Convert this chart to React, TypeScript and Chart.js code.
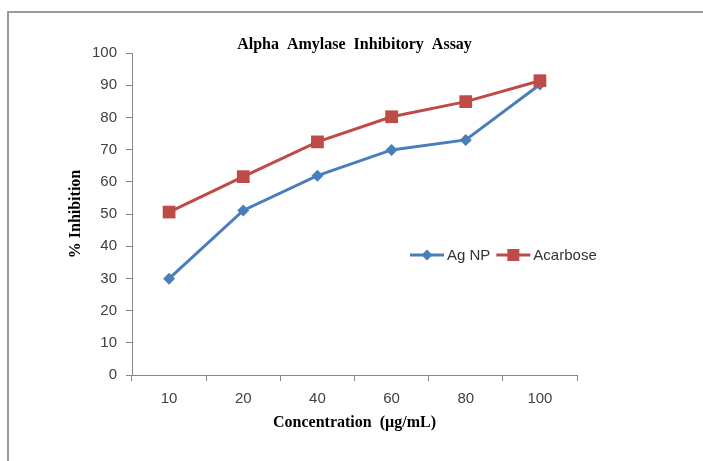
import React, { useEffect, useRef } from "react";
import { Chart, registerables } from "chart.js";

Chart.register(...registerables);

const categories = ["10", "20", "40", "60", "80", "100"];
const agNP = [29.9, 51.1, 61.9, 69.9, 73.0, 90.2];
const acarbose = [50.6, 61.6, 72.4, 80.2, 84.9, 91.4];
const seriesNames = ["Ag NP", "Acarbose"];
const yTicks = [0, 10, 20, 30, 40, 50, 60, 70, 80, 90, 100];
const chartTitle = "Alpha  Amylase  Inhibitory  Assay";
const xTitle = "Concentration  (µg/mL)";
const yTitle = "% Inhibition";

const BLUE = "#4A7EBB";
const RED = "#BE4B48";
const AXIS = "#868686";
const TEXT = "#404040";
const SERIF = "'Liberation Serif', 'Times New Roman', serif";
const SANS = "'Liberation Sans', Arial, sans-serif";

const titlePlugin = {
  id: "areaTitle",
  afterDraw(chart: any) {
    const ctx = chart.ctx;
    const a = chart.chartArea;
    ctx.save();
    ctx.font = `bold 16px ${SERIF}`;
    ctx.fillStyle = "#000";
    ctx.textAlign = "center";
    ctx.textBaseline = "middle";
    ctx.fillText(chartTitle, (a.left + a.right) / 2, a.top - 8);
    ctx.restore();
  },
};

const legendPlugin = {
  id: "insideLegend",
  afterDraw(chart: any) {
    const ctx = chart.ctx;
    const y = 255;
    let x = 410;
    ctx.save();
    ctx.font = `15px ${SANS}`;
    ctx.textBaseline = "middle";
    ctx.textAlign = "left";
    chart.data.datasets.forEach((ds: any) => {
      ctx.strokeStyle = ds.borderColor;
      ctx.lineWidth = 3;
      ctx.beginPath();
      ctx.moveTo(x, y);
      ctx.lineTo(x + 34, y);
      ctx.stroke();
      const px = x + 17;
      ctx.fillStyle = ds.pointBackgroundColor;
      ctx.beginPath();
      if (ds.pointStyle === "rect") {
        const s = 6;
        ctx.rect(px - s, y - s, 2 * s, 2 * s);
      } else {
        const r = 5.5;
        ctx.moveTo(px, y - r);
        ctx.lineTo(px + r, y);
        ctx.lineTo(px, y + r);
        ctx.lineTo(px - r, y);
        ctx.closePath();
      }
      ctx.fill();
      ctx.fillStyle = "#333";
      ctx.fillText(ds.label, x + 37, y + 1);
      x += 37 + ctx.measureText(ds.label).width + 6;
    });
    ctx.restore();
  },
};

export default function App() {
  const ref = useRef<HTMLCanvasElement | null>(null);
  useEffect(() => {
    if (!ref.current) return;
    const chart = new Chart(ref.current, {
      type: "line",
      data: {
        labels: categories,
        datasets: [
          {
            label: seriesNames[0],
            data: agNP,
            borderColor: BLUE,
            backgroundColor: BLUE,
            pointBackgroundColor: BLUE,
            pointBorderColor: BLUE,
            pointStyle: "rectRot",
            pointRadius: 6,
            pointBorderWidth: 0,
            borderWidth: 3,
            order: 1,
          } as any,
          {
            label: seriesNames[1],
            data: acarbose,
            borderColor: RED,
            backgroundColor: RED,
            pointBackgroundColor: RED,
            pointBorderColor: RED,
            pointStyle: "rect",
            pointRadius: 9,
            pointBorderWidth: 0,
            borderWidth: 3,
            order: 0,
          } as any,
        ],
      },
      options: {
        animation: false,
        responsive: false,
        maintainAspectRatio: false,
        layout: { padding: { left: 60, right: 126, top: 53, bottom: 20 } },
        plugins: {
          legend: { display: false },
          tooltip: { enabled: false },
          title: { display: false },
        },
        scales: {
          x: {
            type: "category",
            offset: true,
            grid: { offset: true, drawOnChartArea: false, drawTicks: true, tickLength: 6, color: AXIS },
            border: { color: AXIS, width: 1 },
            ticks: { color: TEXT, font: { family: SANS, size: 15 }, padding: 9 },
            title: {
              display: true,
              text: xTitle,
              color: "#000",
              font: { family: SERIF, size: 16, weight: "bold" },
              padding: { top: 0, bottom: 9 },
            },
            afterFit: (s: any) => {
              s.height = 66;
            },
          },
          y: {
            min: 0,
            max: 100,
            afterBuildTicks: (s: any) => {
              s.ticks = yTicks.map((v) => ({ value: v }));
            },
            grid: { drawOnChartArea: false, drawTicks: true, tickLength: 6, color: AXIS },
            border: { color: AXIS, width: 1 },
            ticks: { color: TEXT, font: { family: SANS, size: 15 }, padding: 9 },
            title: {
              display: true,
              text: yTitle,
              color: "#000",
              font: { family: SERIF, size: 16, weight: "bold" },
              padding: { top: 6, bottom: 0 },
            },
            afterFit: (s: any) => {
              s.width = 72;
            },
          },
        },
      } as any,
      plugins: [titlePlugin, legendPlugin],
    });
    return () => chart.destroy();
  }, []);

  return (
    <div style={{ position: "fixed", left: 0, top: 0, width: 703, height: 461, background: "#fff" }}>
      <div
        style={{
          position: "absolute",
          left: 7,
          top: 11,
          right: 0,
          bottom: 0,
          borderLeft: "2px solid #9a9a9a",
          borderTop: "2px solid #9a9a9a",
        }}
      />
      <canvas ref={ref} width={703} height={461} style={{ position: "absolute", left: 0, top: 0, width: 703, height: 461 }} />
    </div>
  );
}
